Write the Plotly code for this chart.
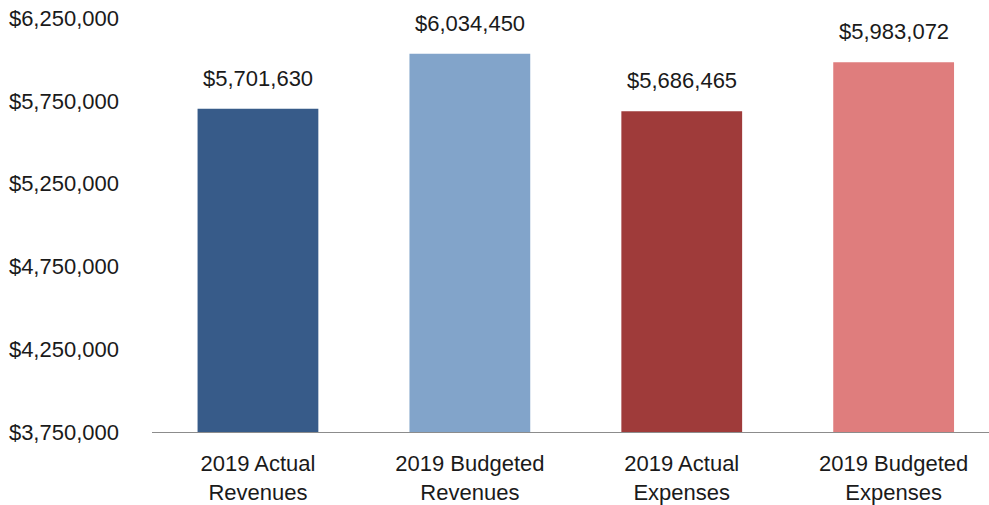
import plotly.graph_objects as go

categories = ["2019 Actual<br>Revenues", "2019 Budgeted<br>Revenues",
              "2019 Actual<br>Expenses", "2019 Budgeted<br>Expenses"]
values = [5701630, 6034450, 5686465, 5983072]
colors = ["#375B89", "#82A4CA", "#9F3B3A", "#DF7D7D"]
tick_vals = [3750000, 4250000, 4750000, 5250000, 5750000, 6250000]
tick_text = ["$3,750,000", "$4,250,000", "$4,750,000", "$5,250,000", "$5,750,000", "$6,250,000"]

FONT = "Liberation Sans"
TXT = "#1a1a1a"
FS = 22

fig = go.Figure()
fig.add_trace(go.Bar(
    x=list(range(len(categories))), y=values,
    base=0,
    marker=dict(color=colors, line=dict(width=0)),
    width=0.57,
    hoverinfo="skip",
))

for i, v in enumerate(values):
    fig.add_annotation(x=i, y=v, text=f"${v:,.0f}", showarrow=False,
                       yanchor="bottom", yshift=16,
                       font=dict(family=FONT, size=FS, color=TXT))

fig.update_layout(
    width=989, height=505,
    margin=dict(l=152, r=0, t=18, b=73),
    paper_bgcolor="white", plot_bgcolor="white",
    showlegend=False,
    font=dict(family=FONT, size=FS, color=TXT),
)
fig.update_xaxes(
    range=[-0.5, 3.45],
    tickmode="array", tickvals=list(range(len(categories))), ticktext=categories,
    showline=True, linecolor="#8c8c8c", linewidth=1,
    showgrid=False, ticks="", zeroline=False,
    ticklabelstandoff=12,
    tickfont=dict(family=FONT, size=FS, color=TXT),
)
fig.update_yaxes(
    range=[3750000, 6250000],
    tickmode="array", tickvals=tick_vals, ticktext=tick_text,
    showgrid=False, zeroline=False, showline=False, ticks="",
    ticklabelstandoff=32,
    tickfont=dict(family=FONT, size=FS, color=TXT),
)

fig.write_html("out.html")
